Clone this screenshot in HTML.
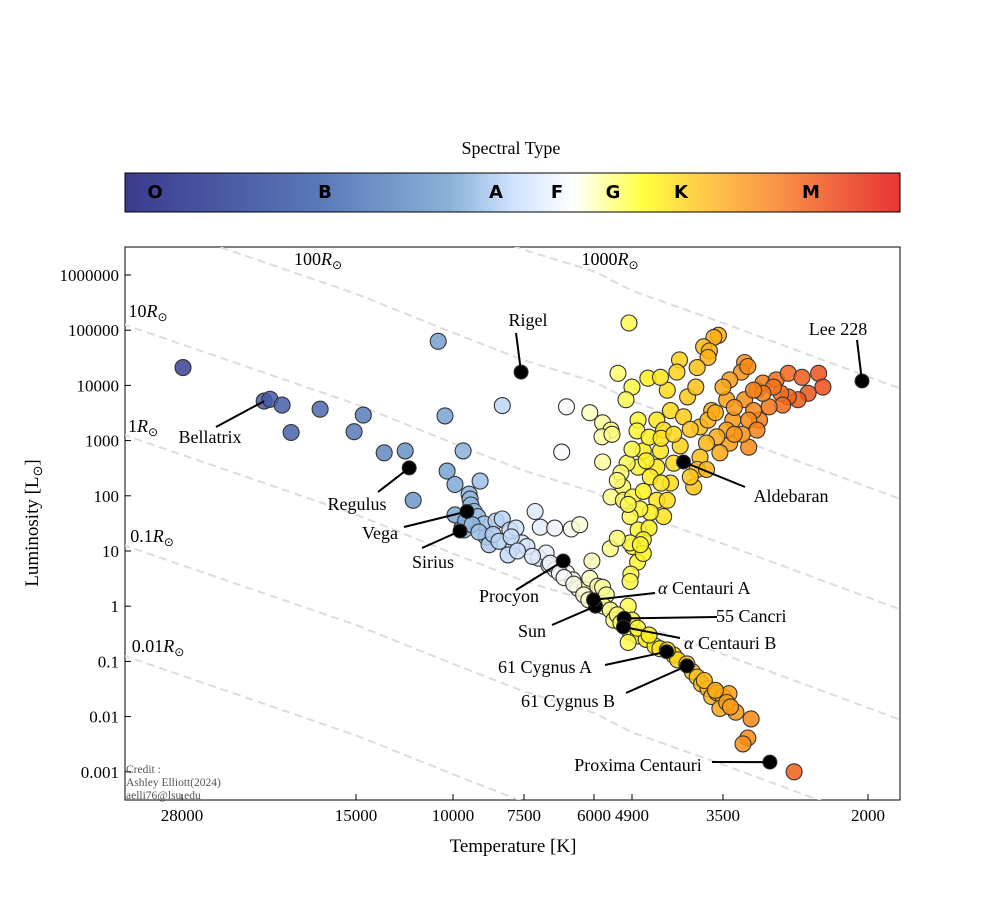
<!DOCTYPE html>
<html><head><meta charset="utf-8">
<style>
body{margin:0;background:#fff;}
svg{display:block;font-family:"Liberation Serif",serif;}
</style></head>
<body>
<svg id="chart" width="1000" height="900" viewBox="0 0 1000 900" xmlns="http://www.w3.org/2000/svg">
<defs>
<linearGradient id="cmap" x1="0" x2="1" y1="0" y2="0">
<stop offset="0" stop-color="#3a3a8f"/><stop offset="0.25" stop-color="#5a78b8"/>
<stop offset="0.42" stop-color="#8ab2d8"/><stop offset="0.5" stop-color="#cfe2ff"/>
<stop offset="0.58" stop-color="#ffffff"/><stop offset="0.62" stop-color="#ffffa8"/>
<stop offset="0.67" stop-color="#ffff40"/><stop offset="0.75" stop-color="#ffc848"/>
<stop offset="0.83" stop-color="#fb9a48"/><stop offset="0.91" stop-color="#f06a40"/>
<stop offset="1" stop-color="#e83535"/>
</linearGradient>
<clipPath id="plotclip"><rect x="125" y="247" width="775" height="553"/></clipPath>
</defs>
<text x="511" y="154" font-size="18" text-anchor="middle">Spectral Type</text>
<rect x="125" y="173" width="775" height="39" fill="url(#cmap)" stroke="#000" stroke-width="1"/>
<g font-family="'DejaVu Sans',sans-serif" font-weight="bold" font-size="18" text-anchor="middle">
<text x="155" y="198">O</text>
<text x="325" y="198">B</text>
<text x="496" y="198">A</text>
<text x="557" y="198">F</text>
<text x="613" y="198">G</text>
<text x="681" y="198">K</text>
<text x="811" y="198">M</text>
</g>
<rect x="125" y="247" width="775" height="553" fill="#fff" stroke="#000" stroke-width="1"/>
<g id="radius-lines" clip-path="url(#plotclip)"></g>
<g id="points" clip-path="url(#plotclip)"></g>
<g id="named"></g>
<g id="axes"></g>
<g id="annots" font-size="18"></g>
<text x="513" y="852" font-size="19" text-anchor="middle">Temperature [K]</text>
<text transform="translate(38,523) rotate(-90)" font-size="19" text-anchor="middle">Luminosity [L<tspan font-size="13" dy="4">⊙</tspan><tspan dy="-4">]</tspan></text>
<g font-size="11.5" fill="#555">
<text x="126" y="773">Credit :</text>
<text x="126" y="786">Ashley Elliott(2024)</text>
<text x="126" y="799">aelli76@lsu.edu</text>
</g>
</svg>
<script>
const xTickTemps=[28000,15000,10000,7500,6000,4900,3500,2000];
const yTickLums=[1000000,100000,10000,1000,100,10,1,0.1,0.01,0.001];
const yTickLabels=["1000000","100000","10000","1000","100","10","1","0.1","0.01","0.001"];
const radii=[0.01,0.1,1,10,100,1000];
const radiusLabels=["0.01","0.1","1","10","100","1000"];
const temps=[27900,10640,20850,20420,19550,18930,17060,14550,15100,13330,12210,11810,10340,9600,10250,9920,8960,9370,9330,9300,9180,9640,9920,9560,9050,8810,8740,8640,8400,8190,8190,7940,7840,8000,7750,7560,7430,7240,7120,6800,7160,6990,6930,6790,6450,6280,6550,6420,6310,6180,6040,6080,5880,6650,6550,
9500,9250,9000,8500,8300,7900,7700,7300,6900,6700,6600,6400,6200,6100,
5730,5620,5700,5500,5400,5000,4900,4950,4790,5000,4650,4500,4420,4200,4140,3920,3850,3790,3700,3650,3580,3500,3420,3540,3330,3140,3180,3240,2660,
5300,5200,4800,4600,4300,4000,3750,3600,3450,3400,
4980,3560,3620,3760,3680,3700,5280,4620,4110,4150,3850,3220,3260,3180,4900,5060,6080,5730,5480,5750,5450,5730,4790,4810,4470,4360,4250,4050,3990,4300,4410,3870,3650,3450,3410,3500,3370,3220,3070,3000,2850,2720,2580,2420,2380,2520,2620,2720,2800,2880,2780,2930,3000,3110,3040,3110,3170,3070,3170,3250,3410,3540,3450,3580,3720,3810,3700,3810,3850,3720,3900,3950,4200,4250,4100,4410,4470,4700,4790,5030,5200,5150,5480,5130,4890,4700,4580,4400,4470,4300,4360,4580,4760,4950,4790,4600,4700,4890,4950,4600,4400,4900,4650,5300,5000,4800,4930,4950,4700,4750,5500,5300,4200,3950,3600,3350,3350];
const lums=[2.1e4,6.3e4,5200,5600,4400,1400,3700,2900,1450,600,650,83,2800,650,280,160,185,107,87,68,52,26,45,24,42,31,18,13,35,38,4300,24,12,8.5,26,14,12,52,27,26,7.4,9.2,5.6,4.6,25,30,4.0,3.0,2.1,2.0,6.6,3.2,2.3,620,4100,
35,30,22,20,15,18,10,8,6,4,3.3,2.5,1.6,1.3,
2.2,1.6,1.0,0.85,0.56,1.0,0.56,0.34,0.29,0.22,0.25,0.19,0.17,0.13,0.107,0.065,0.052,0.039,0.032,0.023,0.027,0.023,0.026,0.014,0.012,0.0091,0.0041,0.0032,0.001,
0.7,0.5,0.4,0.3,0.16,0.09,0.045,0.03,0.018,0.015,
1.35e5,8.1e4,7.4e4,5.0e4,4.2e4,3.2e4,1.66e4,1.35e4,2.9e4,1.74e4,2.1e4,2.6e4,1.74e4,2.2e4,9300,5500,3200,2100,1550,1170,1300,410,2350,1500,2350,1550,3500,2700,6200,8200,1.4e4,9300,3500,5500,1.26e4,9300,2350,5500,8200,1.1e4,1.26e4,1.66e4,1.4e4,1.66e4,9300,7200,5500,6200,7200,9300,4400,4100,7200,8200,2350,3500,2350,1550,760,1300,900,600,1550,1170,900,1770,2350,500,300,300,145,220,390,170,800,650,330,650,330,390,260,145,95,83,95,120,220,170,83,83,42,50,58,42,24,26,16,12,14,1150,1100,700,430,190,70,6.3,3.8,2.8,9,13,11,17,1300,1600,3200,4000,1300];
const namedStars=["Rigel","Lee 228","Regulus","Vega","Sirius","Procyon","Sun","α Centauri A","55 Cancri","α Centauri B","61 Cygnus A","61 Cygnus B","Aldebaran","Proxima Centauri"];
const namedTemps=[7590,2047,12010,9450,9720,6620,5950,6010,5110,5130,4310,4000,4050,2920];
const namedLums=[1.74e4,1.2e4,320,52,23,6.6,1.0,1.3,0.6,0.42,0.15,0.083,410,0.0015];

const NS="http://www.w3.org/2000/svg";
const tickPx=[182,356,453,524,594,632,723,868];
function xScale(T){
  const lt=Math.log10(T);
  const lts=xTickTemps.map(Math.log10);
  let i=0;
  if(lt<=lts[lts.length-1]) i=lts.length-2;
  else { while(i<lts.length-2 && lt<lts[i+1]) i++; }
  const f=(lt-lts[i])/(lts[i+1]-lts[i]);
  return tickPx[i]+f*(tickPx[i+1]-tickPx[i]);
}
function yScale(L){return 275+(6-Math.log10(L))*55.2;}
function el(tag,attrs,parent){const e=document.createElementNS(NS,tag);for(const k in attrs)e.setAttribute(k,attrs[k]);parent.appendChild(e);return e;}
const stops=[[0,[50,50,140]],[0.25,[75,105,175]],[0.42,[120,165,210]],[0.5,[200,222,255]],[0.57,[250,250,250]],[0.62,[255,255,150]],[0.67,[255,245,30]],[0.74,[255,190,20]],[0.8,[250,140,20]],[0.87,[240,90,25]],[1,[225,45,35]]];
function cmap(x){
  let f=Math.max(0,Math.min(1,(x-125)/775));
  for(let i=0;i<stops.length-1;i++){
    if(f<=stops[i+1][0]){const t=(f-stops[i][0])/(stops[i+1][0]-stops[i][0]);
      const c=stops[i][1].map((v,j)=>Math.round(v+t*(stops[i+1][1][j]-v)));return `rgb(${c})`;}
  }
  return "rgb(225,45,35)";
}
const rl=document.getElementById('radius-lines');
const labelPos=[[158,652],[152,542],[143,432],[148,317],[318,265],[610,265]];
radii.forEach((R,k)=>{
  let d="";
  for(let x=110;x<=910;x+=5){
    let lo=1000,hi=60000;
    for(let it=0;it<40;it++){const m=Math.sqrt(lo*hi);if(xScale(m)>x)lo=m;else hi=m;}
    const T=Math.sqrt(lo*hi);
    const L=R*R*Math.pow(T/5772,4);
    d+=(d?"L":"M")+x+","+yScale(L).toFixed(1);
  }
  const p=el('path',{d:d,fill:"none",stroke:"#dcdcdc","stroke-width":2,"stroke-dasharray":"8,5"},rl);
  
  
  const t=el('text',{x:labelPos[k][0],y:labelPos[k][1],"font-size":18,"text-anchor":"middle"},document.getElementById('annots'));
  
  
  t.innerHTML=radiusLabels[k]+'<tspan font-style="italic">R</tspan><tspan font-size="12" dy="4">⊙</tspan>';
});
const pg=document.getElementById('points');
temps.forEach((T,i)=>{
  const x=xScale(T);
  const c=el('circle',{cx:x.toFixed(1),cy:yScale(lums[i]).toFixed(1),r:8,fill:cmap(x),"fill-opacity":0.85,stroke:"#333","stroke-width":1.1},pg);
  
  
});
const ng=document.getElementById('named');
const ag=document.getElementById('annots');
const lblPos=[[528,326,"middle",516,333],[838,335,"middle",857,340],[357,510,"middle",378,492],[380,539,"middle",404,527],[433,568,"middle",422,548],[509,602,"middle",516,590],[532,637,"middle",552,625],[658,594,"start",655,593],[716,622,"start",717,617],[684,649,"start",680,638],[545,673,"middle",605,665],[568,707,"middle",626,693],[791,502,"middle",745,487],[638,771,"middle",712,762]];
namedStars.forEach((n,i)=>{
  const x=xScale(namedTemps[i]),y=yScale(namedLums[i]);
  const lp=lblPos[i];
  const ln=el('line',{x1:lp[3],y1:lp[4],x2:x,y2:y,stroke:"#000","stroke-width":2},ag);
  
  
  const c=el('circle',{cx:x.toFixed(1),cy:y.toFixed(1),r:7,fill:"#000",stroke:"#333","stroke-width":1},ng);
  
  
  const t=el('text',{x:lp[0],y:lp[1],"text-anchor":lp[2]},ag);
  
  
  if(n.startsWith('α')) t.innerHTML='<tspan font-style="italic">α</tspan>'+n.slice(1); else t.textContent=n;
});
(function(){
  const x=xScale(20850),y=yScale(5200);
  const ln=el('line',{x1:216,y1:427,x2:x,y2:y,stroke:"#000","stroke-width":2},ag);
  
  
  const t=el('text',{x:210,y:443,"text-anchor":"middle"},ag);
  
  
  t.textContent="Bellatrix";
})();
const ax=document.getElementById('axes');
xTickTemps.forEach(T=>{
  const x=xScale(T);
  const l=el('line',{x1:x,y1:800,x2:x,y2:794,stroke:"#000","stroke-width":1},ax);
  
  
  const t=el('text',{x:x,y:821,"font-size":17,"text-anchor":"middle"},ax);
  
  
  t.textContent=T;
});
yTickLums.forEach((L,i)=>{
  const y=yScale(L);
  const l=el('line',{x1:125,y1:y,x2:131,y2:y,stroke:"#000","stroke-width":1},ax);
  
  
  const t=el('text',{x:119,y:y+6,"font-size":17,"text-anchor":"end"},ax);
  
  
  t.textContent=yTickLabels[i];
});
</script>
</body></html>
